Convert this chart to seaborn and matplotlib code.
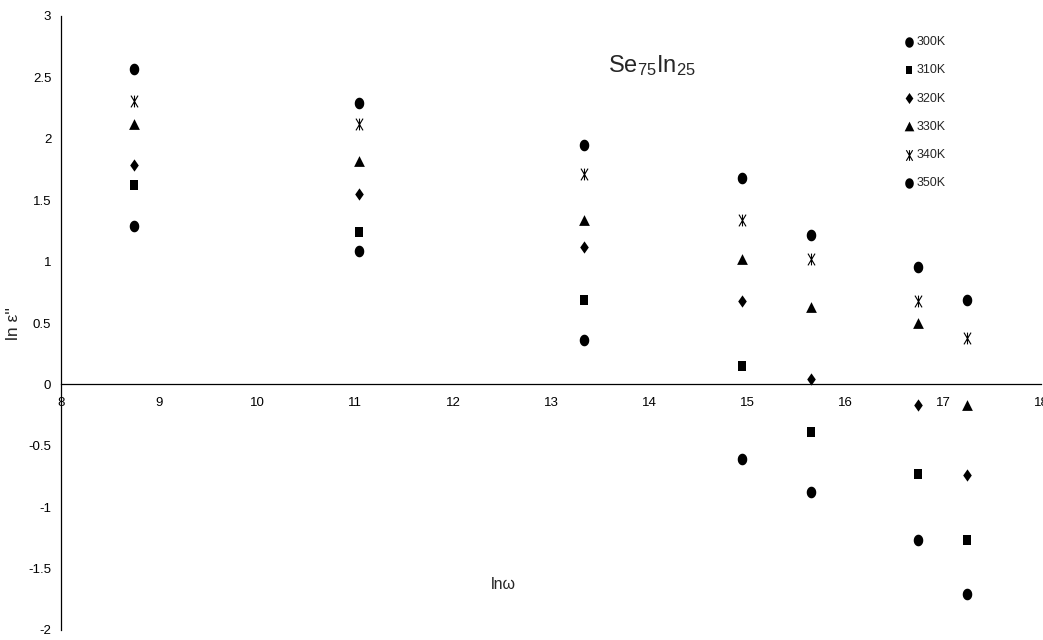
import numpy as np
import pandas as pd
import matplotlib
matplotlib.use("Agg")
import matplotlib.pyplot as plt
from matplotlib.path import Path
import seaborn as sns

# ---- data ----
ln_omega = [8.74, 11.04, 13.34, 14.95, 15.65, 16.74, 17.24]
temps = ["300K", "310K", "320K", "330K", "340K", "350K"]
y_300 = [1.29, 1.09, 0.36, -0.61, -0.88, -1.27, -1.71]
y_310 = [1.62, 1.24, 0.69, 0.15, -0.39, -0.73, -1.27]
y_320 = [1.79, 1.55, 1.12, 0.68, 0.04, -0.17, -0.74]
y_330 = [2.12, 1.82, 1.34, 1.02, 0.63, 0.50, -0.17]
y_340 = [2.31, 2.12, 1.71, 1.34, 1.02, 0.68, 0.38]
y_350 = [2.57, 2.29, 1.95, 1.68, 1.22, 0.96, 0.69]
series = [y_300, y_310, y_320, y_330, y_340, y_350]

x_ticks = list(range(8, 19))
y_ticks = [-2, -1.5, -1, -0.5, 0, 0.5, 1, 1.5, 2, 2.5, 3]
y_ticklabels = ["-2", "-1.5", "-1", "-0.5", "0", "0.5", "1", "1.5", "2", "2.5", "3"]

rows = []
for t, ys in zip(temps, series):
    for x, y in zip(ln_omega, ys):
        rows.append({"lnw": x, "lneps": y, "T": t})
df = pd.DataFrame(rows)

# ---- style ----
sns.set_theme(style="white")
plt.rcParams["font.family"] = ["Liberation Sans Narrow", "Liberation Sans", "DejaVu Sans"]
plt.rcParams["mathtext.default"] = "regular"

# asterisk-like marker: vertical bar + narrow X
star_path = Path(
    [(0, -1), (0, 1), (-0.6, -1), (0.6, 1), (0.6, -1), (-0.6, 1)],
    [Path.MOVETO, Path.LINETO, Path.MOVETO, Path.LINETO, Path.MOVETO, Path.LINETO],
)
# slightly tall ellipse for circles
th = np.linspace(0, 2 * np.pi, 40)
ellipse_path = Path(np.column_stack([0.82 * np.cos(th), np.sin(th)]), closed=True)
diamond_path = Path([(0, -1), (0.7, 0), (0, 1), (-0.7, 0), (0, -1)], closed=True)
square_path = Path([(-0.8, -1), (0.8, -1), (0.8, 1), (-0.8, 1), (-0.8, -1)], closed=True)

marker_map = {"300K": ellipse_path, "310K": square_path, "320K": diamond_path,
              "330K": "^", "340K": star_path, "350K": ellipse_path}
size_map = {"300K": 70, "310K": 48, "320K": 78, "330K": 60, "340K": 72, "350K": 70}

fig = plt.figure(figsize=(10.43, 6.4), dpi=100)
ax = fig.add_axes([61 / 1043, 1 - 630 / 640, 980 / 1043, 614 / 640])

for t in temps:
    sub = df[df["T"] == t]
    if t == "340K":
        sns.scatterplot(data=sub, x="lnw", y="lneps", marker=star_path, s=size_map[t],
                        color="black", edgecolor="black", linewidth=0.8, label=t, ax=ax)
    else:
        sns.scatterplot(data=sub, x="lnw", y="lneps", marker=marker_map[t], s=size_map[t],
                        color="black", edgecolor="black", linewidth=0, label=t, ax=ax)

ax.set_xlim(8, 18)
ax.set_ylim(-2, 3)
ax.set_xticks(x_ticks)
ax.set_xticklabels([str(v) for v in x_ticks])
ax.set_yticks(y_ticks)
ax.set_yticklabels(y_ticklabels)

for s in ["top", "right"]:
    ax.spines[s].set_visible(False)
ax.spines["bottom"].set_position(("data", 0))
for s in ["bottom", "left"]:
    ax.spines[s].set_color("black")
    ax.spines[s].set_linewidth(0.9)

ax.tick_params(axis="both", which="both", direction="out", length=4, width=0.8,
               colors="black", labelsize=9.5, pad=3)
ax.tick_params(axis="x", pad=5)
ax.grid(False)

ax.set_ylabel("ln ε''", fontsize=12.5)
ax.yaxis.set_label_coords(-40 / 980, 0.5)
ax.set_xlabel("lnω", fontsize=11.5)
ax.xaxis.set_label_coords((503 - 61) / 980, (630 - 577) / 614)

fig.text(608 / 1043, 1 - 72 / 640, "Se$_{75}$In$_{25}$", fontsize=17,
         ha="left", va="baseline")

leg = ax.legend(loc="upper left", bbox_to_anchor=(905 / 1043, 1 - 36 / 640),
                bbox_transform=fig.transFigure, frameon=False, fontsize=9,
                handlelength=0.7, handletextpad=0.25, labelspacing=1.3,
                borderpad=0, borderaxespad=0, markerscale=0.9)

fig.savefig("out.png", dpi=100, facecolor="white")
